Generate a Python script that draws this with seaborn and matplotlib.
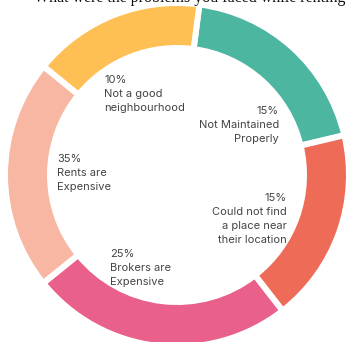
import matplotlib
matplotlib.use("Agg")
import matplotlib.pyplot as plt
import seaborn as sns

# ---- data (clockwise from the top) ----
categories = ["Not Maintained Properly", "Could not find a place near their location",
              "Brokers are Expensive", "Rents are Expensive", "Not a good neighbourhood"]
label_pct = ["15%", "15%", "25%", "35%", "10%"]
label_lines = [["Not Maintained", "Properly"],
               ["Could not find", "a place near", "their location"],
               ["Brokers are", "Expensive"],
               ["Rents are", "Expensive"],
               ["Not a good", "neighbourhood"]]
arc_share = [19.2, 18.2, 24.7, 21.7, 16.2]   # visual arc sizes
colors = ["#4DB6A0", "#EE6B57", "#E9608A", "#F7B7A3", "#FEC055"]
title = "What were the problems you faced while renting"

sns.set_theme(style="white")
plt.rcParams['font.family'] = ['Inter', 'DejaVu Sans']

W, H, DPI = 346, 342, 100
CX, CY, R = 177, 175, 169

fig = plt.figure(figsize=(W / DPI, H / DPI), dpi=DPI)
ax = fig.add_axes([0, 0, 1, 1])
ax.set_xlim(-CX / R, (W - CX) / R)
ax.set_ylim(-(H - CY) / R, CY / R)
ax.set_aspect("equal")
ax.axis("off")

gap_px = 6
lw = gap_px * 72 / DPI
ax.pie(arc_share, colors=colors, startangle=90 - 7.5, counterclock=False,
       radius=(R + gap_px / 2) / R,
       wedgeprops=dict(width=(39 + gap_px) / R, edgecolor="white", linewidth=lw),
       center=(0, 0), frame=False)
ax.set_xlim(-CX / R, (W - CX) / R)
ax.set_ylim(-(H - CY) / R, CY / R)


def px(x, y):
    return (x - CX) / R, (CY - y) / R


# label anchor: (x pixel, first baseline pixel, alignment)
anchors = [(279, 114, "right"), (287, 201, "right"), (110, 257, "left"),
           (57, 162, "left"), (104, 83, "left")]
pitch = 14
for pct, lines, (x, y0, ha) in zip(label_pct, label_lines, anchors):
    for i, t in enumerate([pct] + lines):
        ax.text(*px(x, y0 + i * pitch), t, ha=ha, va="baseline",
                fontsize=8.0, color="#454545")

ax.text(*px(190, 2), title, ha="center", va="baseline", fontsize=11.5,
        family=["Liberation Serif", "DejaVu Serif"], color="#111111")

fig.savefig("out.png", dpi=DPI)
